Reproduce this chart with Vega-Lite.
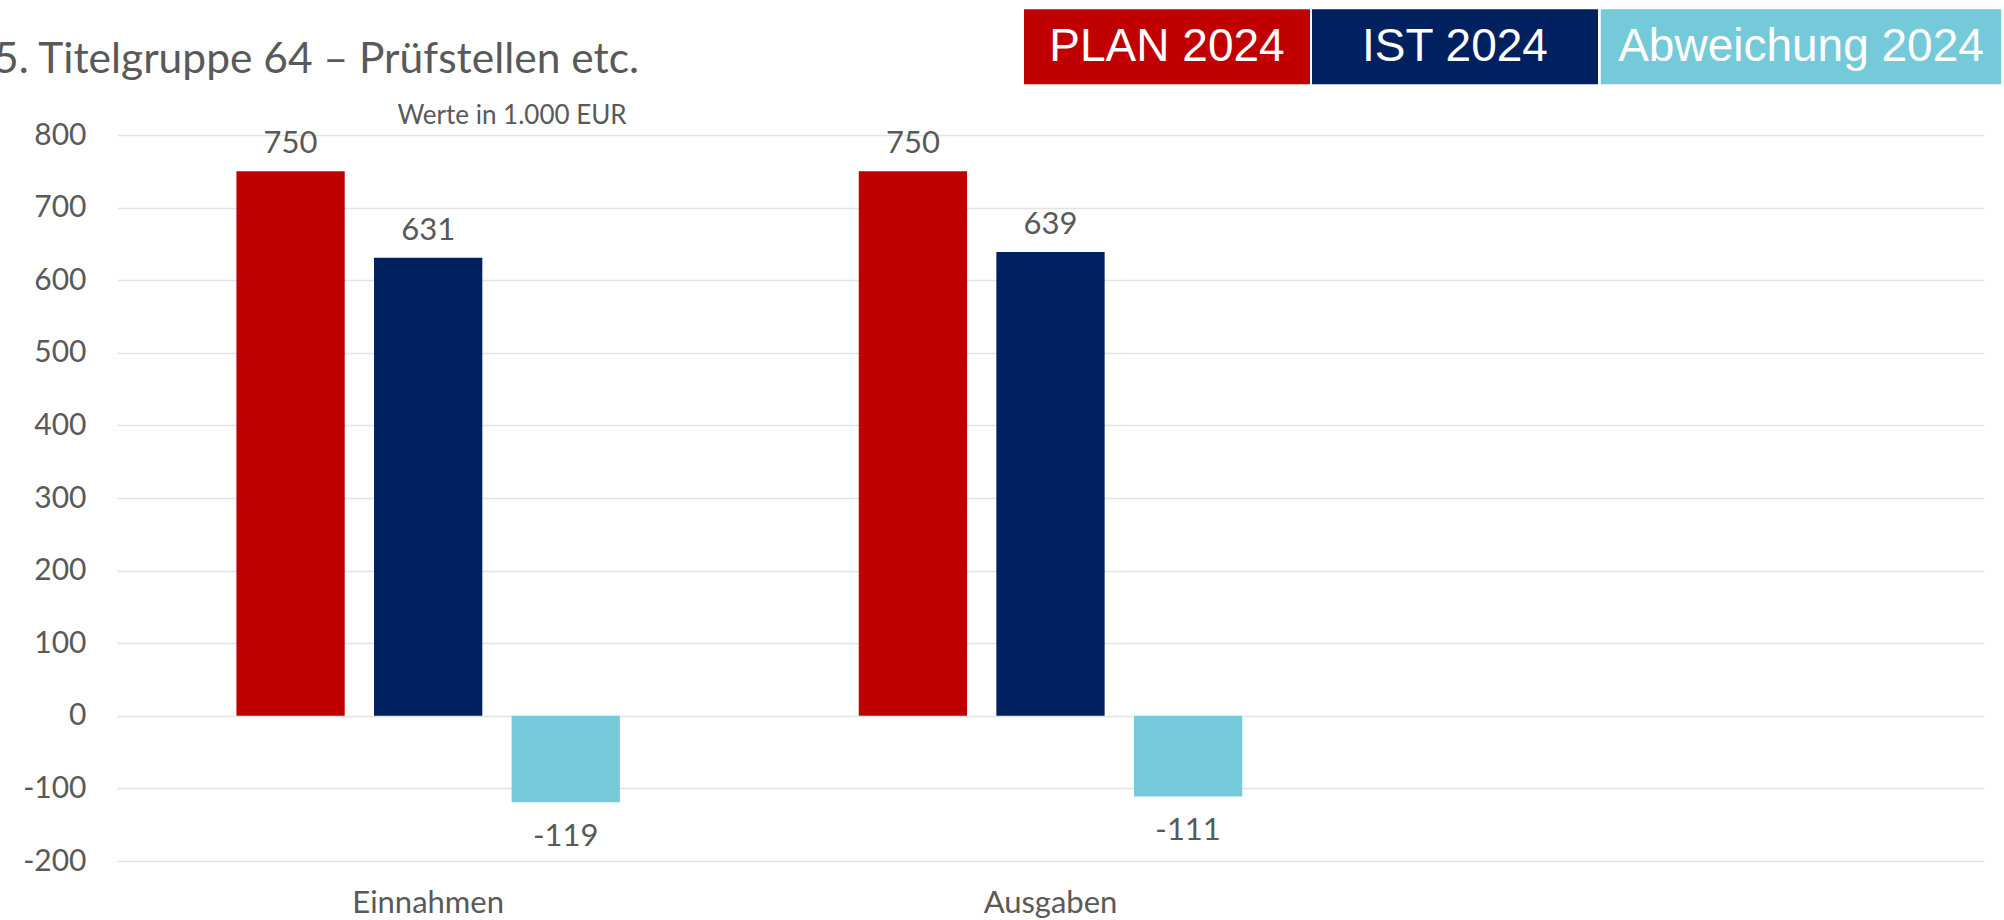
{
  "$schema": "https://vega.github.io/schema/vega-lite/v6.json",
  "autosize": {"type": "none"},
  "width": 1867,
  "height": 726,
  "padding": {"left": 117, "top": 135, "right": 20, "bottom": 59},
  "background": "white",
  "title": {
    "text": "5. Titelgruppe 64 – Prüfstellen etc.",
    "anchor": "start",
    "frame": "group",
    "font": "Lato",
    "fontSize": 42.5,
    "fontWeight": "normal",
    "color": "#595959",
    "dx": -123,
    "baseline": "alphabetic",
    "offset": -211.5
  },
  "config": {
    "view": {"stroke": null},
    "font": "Lato"
  },
  "data": {
    "values": [
      {"cat": "Einnahmen", "series": "PLAN 2024", "value": 750},
      {"cat": "Einnahmen", "series": "IST 2024", "value": 631},
      {"cat": "Einnahmen", "series": "Abweichung 2024", "value": -119},
      {"cat": "Ausgaben", "series": "PLAN 2024", "value": 750},
      {"cat": "Ausgaben", "series": "IST 2024", "value": 639},
      {"cat": "Ausgaben", "series": "Abweichung 2024", "value": -111}
    ]
  },
  "encoding": {
    "x": {
      "field": "cat",
      "type": "nominal",
      "scale": {"domain": ["Einnahmen", "Ausgaben", "_"], "paddingInner": 0, "paddingOuter": 0},
      "axis": {
        "title": null,
        "domain": false,
        "ticks": false,
        "labelAngle": 0,
        "labelExpr": "datum.value == '_' ? '' : datum.value",
        "labelFont": "Lato",
        "labelFontSize": 31,
        "labelColor": "#595959",
        "labelPadding": 27
      }
    },
    "xOffset": {
      "field": "series",
      "type": "nominal",
      "scale": {"domain": ["PLAN 2024", "IST 2024", "Abweichung 2024"], "paddingInner": 0.213, "paddingOuter": 0.868}
    },
    "y": {
      "field": "value",
      "type": "quantitative",
      "scale": {"domain": [-200, 800], "nice": false, "zero": false},
      "axis": {
        "title": "Werte in 1.000 EUR",
        "titleAngle": 0,
        "titleX": 394.5,
        "titleY": -12,
        "titleAlign": "center",
        "titleBaseline": "alphabetic",
        "titleFont": "Lato",
        "titleFontSize": 26,
        "titleFontWeight": "normal",
        "titleColor": "#595959",
        "values": [-200, -100, 0, 100, 200, 300, 400, 500, 600, 700, 800],
        "labelExpr": "'' + datum.value",
        "domain": false,
        "ticks": false,
        "grid": true,
        "gridColor": "#E3E3E3",
        "gridWidth": 1.5,
        "labelFont": "Lato",
        "labelFontSize": 30,
        "labelColor": "#595959",
        "labelPadding": 31
      }
    }
  },
  "layer": [
    {
      "mark": {"type": "bar"},
      "encoding": {
        "color": {
          "field": "series",
          "type": "nominal",
          "scale": {"domain": ["PLAN 2024", "IST 2024", "Abweichung 2024"], "range": ["#C00000", "#002060", "#75CADA"]},
          "legend": {
            "title": null,
            "orient": "none",
            "legendX": 907,
            "legendY": -231.5,
            "direction": "horizontal",
            "columns": 3,
            "columnPadding": 2,
            "padding": 0,
            "symbolSize": 81796,
            "symbolStrokeWidth": 0,
            "symbolOpacity": 1,
            "labelFont": "Liberation Sans",
            "labelFontSize": 46,
            "labelColor": "white",
            "labelAlign": "center",
            "labelOffset": -143,
            "labelLimit": 1000
          }
        }
      }
    },
    {
      "mark": {"type": "point", "filled": true, "opacity": 0},
      "encoding": {
        "color": {
          "field": "series",
          "type": "nominal",
          "scale": {"domain": ["PLAN 2024", "IST 2024", "Abweichung 2024"], "range": ["#C00000", "#002060", "#75CADA"]}
        },
        "shape": {
          "field": "series",
          "type": "nominal",
          "scale": {
            "domain": ["PLAN 2024", "IST 2024", "Abweichung 2024"],
            "range": ["M-1,-0.2622H1V0.2622H-1Z", "M-1,-0.2622H1V0.2622H-1Z", "M-1.4,-0.2622H1.4V0.2622H-1.4Z"]
          },
          "legend": {
            "title": null,
            "orient": "none",
            "legendX": 907,
            "legendY": -231.5,
            "direction": "horizontal",
            "columns": 3,
            "columnPadding": 2,
            "padding": 0,
            "symbolSize": 81796,
            "symbolStrokeWidth": 0,
            "symbolOpacity": 1,
            "labelFont": "Liberation Sans",
            "labelFontSize": 46,
            "labelColor": "white",
            "labelAlign": "center",
            "labelOffset": -143,
            "labelLimit": 1000
          }
        }
      }
    },
    {
      "transform": [{"filter": "datum.value >= 0"}],
      "mark": {"type": "text", "font": "Lato", "fontSize": 31, "color": "#595959", "baseline": "alphabetic", "dy": -18},
      "encoding": {"text": {"field": "value", "type": "nominal"}}
    },
    {
      "transform": [{"filter": "datum.value < 0"}],
      "mark": {"type": "text", "font": "Lato", "fontSize": 31, "color": "#595959", "baseline": "alphabetic", "dy": 43.5},
      "encoding": {"text": {"field": "value", "type": "nominal"}}
    }
  ]
}
